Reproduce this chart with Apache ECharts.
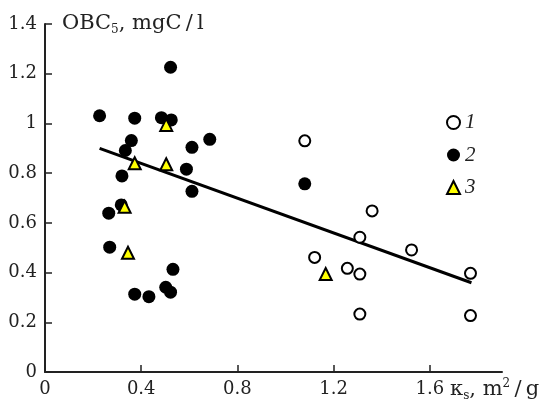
<!DOCTYPE html>
<html>
<head>
<meta charset="utf-8">
<script src="https://cdn.jsdelivr.net/npm/echarts@6/dist/echarts.min.js"></script>
<style>html,body{margin:0;padding:0;background:#fff}#c{width:543px;height:402px}</style>
</head>
<body>
<div id="c"></div>
<script>
// Series 1: open circles
const series1 = [[1.080,0.930],[1.360,0.648],[1.309,0.542],[1.524,0.491],[1.121,0.461],[1.257,0.417],[1.309,0.394],[1.769,0.397],[1.309,0.233],[1.769,0.227]];
// Series 2: filled circles
const series2 = [[0.522,1.226],[0.227,1.031],[0.373,1.021],[0.484,1.023],[0.525,1.014],[0.685,0.936],[0.359,0.931],[0.611,0.904],[0.334,0.891],[0.588,0.816],[0.320,0.789],[0.611,0.727],[0.317,0.672],[0.265,0.639],[0.269,0.502],[0.532,0.413],[0.502,0.341],[0.522,0.321],[0.373,0.313],[0.432,0.303],[1.080,0.757]];
// Series 3: yellow triangles
const series3 = [[0.504,0.994],[0.373,0.840],[0.504,0.836],[0.331,0.665],[0.345,0.480],[1.167,0.394]];
// Regression line end points
const lineX = [0.227, 1.773];
const lineY = [0.900, 0.359];
const xTicks = [0, 0.4, 0.8, 1.2, 1.6];
const legendNames = ['1', '2', '3'];

const FONT = 'DejaVu Serif';
const chart = echarts.init(document.getElementById('c'), null, {renderer: 'canvas'});
chart.setOption({
  animation: false,
  backgroundColor: '#fff',
  grid: {left: 45, right: 41, top: 24, bottom: 30, containLabel: false},
  legend: {
    orient: 'vertical', left: 441, top: 107, itemWidth: 13, itemHeight: 13, itemGap: 11.5,
    data: legendNames,
    textStyle: {fontFamily: 'Liberation Serif', fontStyle: 'italic', fontSize: 21, color: '#222'}
  },
  xAxis: {
    type: 'value', min: 0, max: 1.9, interval: 0.4,
    splitLine: {show: false},
    axisLine: {show: true, lineStyle: {color: '#222', width: 2}},
    axisTick: {show: true, inside: true, length: 7, lineStyle: {color: '#222', width: 1.5}, customValues: xTicks},
    axisLabel: {customValues: xTicks, margin: 8, color: '#222', fontFamily: FONT, fontSize: 18},
    name: '{a|κ}{sub|s}{a|, m}{sup|2}{a|\u2009/\u2009g}',
    nameLocation: 'end', nameGap: -54,
    nameTextStyle: {
      align: 'left', verticalAlign: 'top', padding: [6, 0, 0, 0],
      rich: {
        a: {fontFamily: FONT, fontSize: 21, color: '#222', lineHeight: 24},
        sub: {fontFamily: FONT, fontSize: 12, color: '#222', verticalAlign: 'bottom', lineHeight: 24},
        sup: {fontFamily: FONT, fontSize: 12, color: '#222', verticalAlign: 'top', lineHeight: 24}
      }
    }
  },
  yAxis: {
    type: 'value', min: 0, max: 1.4, interval: 0.2,
    splitLine: {show: false},
    axisLine: {show: true, lineStyle: {color: '#222', width: 2}},
    axisTick: {show: true, inside: true, length: 7, lineStyle: {color: '#222', width: 1.5}},
    axisLabel: {margin: 8, color: '#222', fontFamily: FONT, fontSize: 18},
    name: '{a|OBC}{sub|5}{a|, mgC\u2009/\u2009l}',
    nameLocation: 'end', nameGap: 0,
    nameTextStyle: {
      align: 'left', verticalAlign: 'middle', padding: [0, 0, 0, 17],
      rich: {
        a: {fontFamily: FONT, fontSize: 21, color: '#222', lineHeight: 24},
        sub: {fontFamily: FONT, fontSize: 12, color: '#222', verticalAlign: 'bottom', lineHeight: 24}
      }
    }
  },
  series: [
    {
      type: 'line', name: 'fit', data: lineX.map((x, i) => [x, lineY[i]]),
      showSymbol: false, symbol: 'none', lineStyle: {color: '#000', width: 3}, z: 1, silent: true
    },
    {
      type: 'scatter', name: legendNames[0], data: series1, symbol: 'circle', symbolSize: 11,
      itemStyle: {color: '#fff', borderColor: '#000', borderWidth: 2, opacity: 1}, z: 3
    },
    {
      type: 'scatter', name: legendNames[1], data: series2, symbol: 'circle', symbolSize: 13,
      itemStyle: {color: '#000', opacity: 1}, z: 2
    },
    {
      type: 'scatter', name: legendNames[2], data: series3, symbol: 'triangle', symbolSize: 12,
      itemStyle: {color: '#ffff00', borderColor: '#000', borderWidth: 2, opacity: 1}, z: 4
    }
  ]
});
</script>
</body>
</html>
